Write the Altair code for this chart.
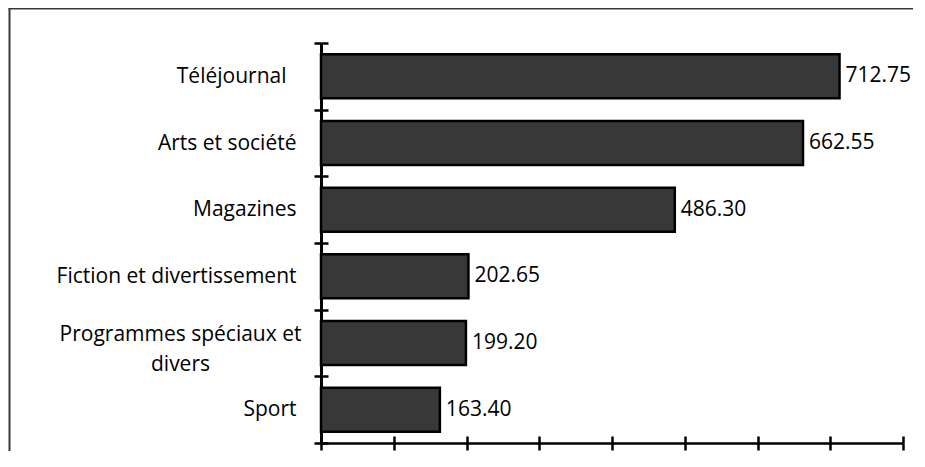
import altair as alt
import pandas as pd

categories = [
    "Téléjournal",
    "Arts et société",
    "Magazines",
    "Fiction et divertissement",
    "Programmes spéciaux et divers",
    "Sport",
]
values = [712.75, 662.55, 486.30, 202.65, 199.20, 163.40]
x_ticks = [0, 100, 200, 300, 400, 500, 600, 700, 800]
wrapped = {"Programmes spéciaux et divers": ["Programmes spéciaux et", "divers"]}

df = pd.DataFrame({"cat": categories, "val": values})

expr = "datum.label"
for k, lines in wrapped.items():
    arr = "[" + ",".join("'" + s + "'" for s in lines) + "]"
    expr = f"datum.label == '{k}' ? {arr} : ({expr})"

WRAP_TEST = "datum.value == 'Programmes spéciaux et divers'"
TELE_TEST = "datum.value == 'Téléjournal'"

FONT = "Open Sans"

def y_scale():
    return alt.Scale(paddingInner=0, paddingOuter=0)

def x_scale():
    return alt.Scale(domain=[0, 800], nice=False)

axis_y_main = alt.Axis(
    orient="left", title=None, grid=False,
    labelFont=FONT, labelFontSize=21, labelColor="black",
    labelPadding={"condition": [{"test": WRAP_TEST, "value": 134},
                                {"test": TELE_TEST, "value": 28}], "value": 18},
    labelAlign={"condition": {"test": WRAP_TEST, "value": "center"}, "value": "right"},
    labelOffset={"condition": {"test": WRAP_TEST, "value": -9}, "value": 0},
    labelLimit=400, labelLineHeight=30, labelExpr=expr,
    domain=True, domainColor="black", domainWidth=3,
    ticks=True, tickColor="black", tickWidth=2.5, tickSize=7, tickBand="extent",
)
axis_y_inner = alt.Axis(
    orient="left", title=None, grid=False, labels=False, domain=False,
    ticks=True, tickColor="black", tickWidth=2.5, tickSize=7, tickBand="extent",
    offset=-7,
)
axis_x_main = alt.Axis(
    orient="bottom", title=None, grid=False, labels=False, values=x_ticks,
    domain=True, domainColor="black", domainWidth=2.5,
    ticks=True, tickColor="black", tickWidth=2.5, tickSize=7,
)
axis_x_inner = alt.Axis(
    orient="bottom", title=None, grid=False, labels=False, values=x_ticks,
    domain=False, ticks=True, tickColor="black", tickWidth=2.5, tickSize=7,
    offset=-7,
)

one = pd.DataFrame({"f": [0]})
frame_left = alt.Chart(one).mark_rule(color="#3a3a3a", strokeWidth=2).encode(
    x=alt.value(-311.5), y=alt.value(-35), y2=alt.value(408),
)
frame_top = alt.Chart(one).mark_rule(color="#3a3a3a", strokeWidth=2).encode(
    x=alt.value(-312.5), x2=alt.value(592), y=alt.value(-34.5),
)

bars = alt.Chart(df).mark_bar(
    fill="#383838", stroke="black", strokeWidth=2.5, height={"band": 0.66}
).encode(
    y=alt.Y("cat:N", sort=categories, scale=y_scale(), axis=axis_y_main),
    x=alt.X("val:Q", scale=x_scale(), axis=axis_x_main),
)

text = alt.Chart(df).mark_text(
    align="left", baseline="middle", dx=6, font=FONT, fontSize=21, color="black"
).encode(
    y=alt.Y("cat:N", sort=categories, scale=y_scale(), axis=axis_y_inner),
    x=alt.X("val:Q", scale=x_scale(), axis=axis_x_inner),
    text=alt.Text("val:Q", format=".2f"),
)

chart = alt.layer(frame_left, frame_top, bars, text).resolve_scale(
    x="independent", y="independent"
).resolve_axis(
    x="independent", y="independent"
).properties(
    width=582, height=400,
    padding={"left": 313, "top": 35, "right": 12, "bottom": 8},
    autosize=alt.AutoSizeParams(type="none"),
).configure_view(strokeWidth=0)

chart.save("out.html", embed_options={"renderer": "svg", "actions": False})
